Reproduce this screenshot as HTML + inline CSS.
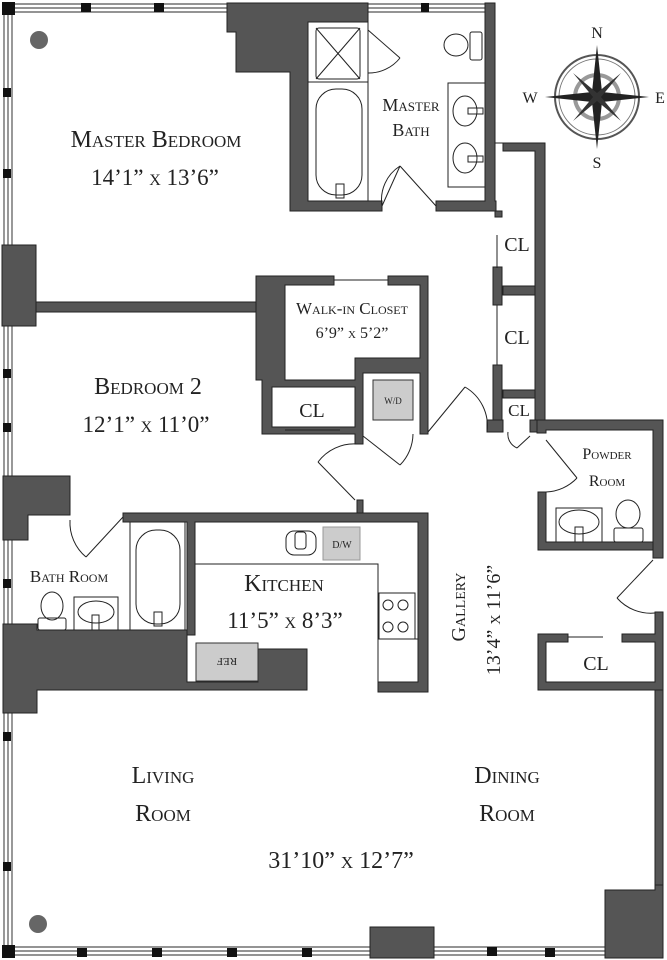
<!DOCTYPE html>
<html><head><meta charset="utf-8"><style>
html,body{margin:0;padding:0;background:#fff;}
svg{display:block;}
text{font-family:"Liberation Serif",serif;fill:#222;}
</style></head><body>
<svg width="667" height="960" viewBox="0 0 667 960" xmlns="http://www.w3.org/2000/svg">
<g fill="none" stroke="#555" stroke-width="1.2">
 <line x1="4" y1="3" x2="4" y2="958"/><line x1="8" y1="3" x2="8" y2="958"/><line x1="12" y1="3" x2="12" y2="958"/>
 <line x1="4" y1="4" x2="227" y2="4"/><line x1="4" y1="8" x2="227" y2="8"/><line x1="12" y1="12" x2="227" y2="12"/>
 <line x1="368" y1="4" x2="487" y2="4"/><line x1="368" y1="8" x2="487" y2="8"/><line x1="368" y1="12" x2="487" y2="12"/>
 <line x1="4" y1="947" x2="606" y2="947"/><line x1="4" y1="951" x2="606" y2="951"/><line x1="4" y1="955" x2="606" y2="955"/>
</g>
<g fill="#111">
 <rect x="2" y="2" width="13" height="13"/><rect x="81" y="3" width="10" height="9"/><rect x="154" y="3" width="10" height="9"/>
 <rect x="421" y="3" width="8" height="9"/>
 <rect x="3" y="88" width="8" height="9"/><rect x="3" y="169" width="8" height="9"/>
 <rect x="3" y="369" width="8" height="9"/><rect x="3" y="423" width="8" height="9"/>
 <rect x="3" y="579" width="8" height="9"/><rect x="3" y="732" width="8" height="9"/><rect x="3" y="862" width="8" height="9"/>
 <rect x="2" y="945" width="13" height="13"/>
 <rect x="77" y="948" width="10" height="9"/><rect x="152" y="948" width="10" height="9"/><rect x="227" y="948" width="10" height="9"/>
 <rect x="302" y="948" width="10" height="9"/><rect x="487" y="947" width="10" height="9"/><rect x="545" y="948" width="10" height="9"/>
</g>
<g fill="#666"><circle cx="39" cy="40" r="9"/><ellipse cx="38" cy="924" rx="9" ry="9"/></g>
<g fill="#555" stroke="#222" stroke-width="1">
 <polygon points="227,3 368,3 368,22 308,22 308,201 382,201 382,211 290,211 290,72 236,72 236,32 227,32"/>
 <polygon points="485,3 495,3 495,201 496,201 496,211 502,211 502,217 495,217 495,211 436,211 436,201 485,201"/>
 <polygon points="495,143 545,143 545,428 535,428 535,151 503,151 503,143"/>
 <rect x="503" y="286" width="32" height="9"/><rect x="503" y="390" width="32" height="8"/>
 <rect x="493" y="267" width="9" height="38"/><rect x="493" y="365" width="9" height="63"/>
 <rect x="487" y="420" width="16" height="12"/><rect x="530" y="420" width="15" height="12"/>
 <polygon points="537,420 663,420 663,558 653,558 653,430 546,430 546,433 537,433"/>
 <polygon points="538,492 546,492 546,542 653,542 653,550 538,550"/>
 <polygon points="538,634 568,634 568,642 546,642 546,682 655,682 655,642 622,642 622,634 655,634 655,612 663,612 663,690 538,690"/>
 <rect x="655" y="690" width="8" height="200"/>
 <polygon points="605,890 655,890 655,885 663,885 663,958 605,958"/>
 <rect x="370" y="927" width="64" height="31"/>
 <rect x="2" y="245" width="34" height="81"/>
 <rect x="36" y="302" width="220" height="10"/>
 <polygon points="256,276 334,276 334,285 285,285 285,380 355,380 355,358 420,358 420,285 388,285 388,276 428,276 428,434 420,434 420,373 363,373 363,444 355,444 355,434 262,434 262,380 256,380"/>
</g>
<rect x="272" y="387" width="83" height="40" fill="#fff" stroke="#222" stroke-width="1"/>
<g fill="#555" stroke="#222" stroke-width="1">
 <rect x="357" y="500" width="6" height="14"/>
 <polygon points="123,513 428,513 428,692 378,692 378,682 418,682 418,522 195,522 195,635 187,635 187,522 123,522"/>
 <polygon points="3,476 70,476 70,515 28,515 28,540 3,540"/>
 <polygon points="3,624 37,624 37,630 187,630 187,682 258,682 258,649 307,649 307,690 37,690 37,713 3,713"/>
</g>
<g fill="none" stroke="#222" stroke-width="1">
 <line x1="334" y1="280" x2="388" y2="280"/><line x1="285" y1="430" x2="340" y2="430"/>
 <line x1="497" y1="235" x2="497" y2="268"/><line x1="497" y1="305" x2="497" y2="365"/>
 <line x1="568" y1="637" x2="603" y2="637"/>
 <line x1="382" y1="206" x2="400" y2="166"/><path d="M400,166 A40,40 0 0 0 382,206"/>
 <line x1="436" y1="206" x2="400" y2="166"/>
 <line x1="368" y1="30" x2="400" y2="58"/><path d="M400,58 A40,40 0 0 1 368,73"/>
 <line x1="363" y1="436" x2="400" y2="465"/><path d="M400,465 A45,45 0 0 0 413,434"/>
 <line x1="355" y1="500" x2="318" y2="462"/><path d="M318,462 A45,45 0 0 1 357,444"/>
 <line x1="428" y1="432" x2="465" y2="387"/><path d="M465,387 A45,45 0 0 1 487,432"/>
 <line x1="517" y1="448" x2="530" y2="436"/><path d="M508,432 A15,15 0 0 0 517,448"/>
 <line x1="546" y1="440" x2="577" y2="478"/><path d="M577,478 A45,45 0 0 1 546,492"/>
 <line x1="653" y1="560" x2="617" y2="598"/><path d="M617,598 A45,45 0 0 0 655,613"/>
 <line x1="123" y1="517" x2="86" y2="557"/><path d="M70,520 A45,45 0 0 0 86,557"/>
 <rect x="316" y="28" width="44" height="51" rx="3"/>
 <line x1="316" y1="28" x2="360" y2="79"/><line x1="360" y1="28" x2="316" y2="79"/>
 <line x1="308" y1="82" x2="368" y2="82"/>
 <rect x="316" y="89" width="46" height="106" rx="20"/>
 <rect x="336" y="184" width="8" height="14"/>
 <line x1="368" y1="22" x2="368" y2="201"/>
 <ellipse cx="456" cy="45" rx="12" ry="11"/><rect x="470" y="32" width="12" height="28" rx="2"/>
 <rect x="448" y="83" width="37" height="104"/>
 <ellipse cx="465" cy="111" rx="12" ry="15"/><ellipse cx="465" cy="158" rx="12" ry="15"/>
 <rect x="468" y="108" width="15" height="6"/><rect x="468" y="156" width="15" height="6"/>
 <rect x="556" y="508" width="46" height="34"/><ellipse cx="579" cy="522" rx="20" ry="12"/><rect x="575" y="527" width="8" height="15"/>
 <ellipse cx="628" cy="514" rx="12" ry="14"/><rect x="614" y="528" width="29" height="14" rx="2"/>
 <ellipse cx="52" cy="606" rx="11" ry="14"/><rect x="38" y="618" width="28" height="12" rx="2"/>
 <rect x="74" y="597" width="44" height="33"/><ellipse cx="96" cy="612" rx="18" ry="11"/><rect x="92" y="615" width="7" height="15"/>
 <line x1="130" y1="522" x2="130" y2="630"/><line x1="185" y1="522" x2="185" y2="630"/>
 <rect x="136" y="530" width="44" height="94" rx="20"/><rect x="154" y="612" width="8" height="14"/>
 <polyline points="195,564 378,564 378,682"/>
 <rect x="286" y="531" width="30" height="24" rx="8"/><rect x="295" y="532" width="11" height="17" rx="3"/>
 <rect x="379" y="593" width="36" height="46"/><line x1="378" y1="639" x2="418" y2="639"/>
 <circle cx="388" cy="605" r="5"/><circle cx="403" cy="605" r="5"/><circle cx="388" cy="627" r="5"/><circle cx="403" cy="627" r="5"/>
</g>
<rect x="323" y="527" width="37" height="33" fill="#ccc" stroke="#999"/>
<rect x="196" y="643" width="62" height="38" fill="#ccc" stroke="#333"/>
<rect x="373" y="380" width="40" height="40" fill="#ccc" stroke="#333"/>
<g font-size="10"><text x="342" y="548" text-anchor="middle">D/W</text><text x="393" y="404" text-anchor="middle" font-size="9">W/D</text>
<text x="227" y="662" text-anchor="middle" transform="rotate(180 227 662)" font-size="11" dy="4">REF</text></g>
<g transform="translate(597,97)">
 <circle r="42" fill="none" stroke="#555" stroke-width="2"/><circle r="38" fill="none" stroke="#777" stroke-width="1"/>
 <circle r="22" fill="none" stroke="#999" stroke-width="4"/>
 <polygon points="0,-52 5,-5 0,0 -5,-5" fill="#222"/><polygon points="0,52 5,5 0,0 -5,5" fill="#222"/>
 <polygon points="-52,0 -5,-5 0,0 -5,5" fill="#222"/><polygon points="52,0 5,-5 0,0 5,5" fill="#222"/>
 <polygon points="24,-24 4,0 0,0 0,-4" fill="#333"/><polygon points="-24,-24 -4,0 0,0 0,-4" fill="#333"/>
 <polygon points="24,24 4,0 0,0 0,4" fill="#333"/><polygon points="-24,24 -4,0 0,0 0,4" fill="#333"/>
</g>
<g font-size="16"><text x="597" y="38" text-anchor="middle">N</text><text x="597" y="168" text-anchor="middle">S</text>
<text x="530" y="103" text-anchor="middle">W</text><text x="660" y="103" text-anchor="middle">E</text></g>
<g text-anchor="middle" style="font-variant:small-caps">
 <text x="156" y="147" font-size="24">Master Bedroom</text>
 <text x="155" y="185" font-size="23">14’1” x 13’6”</text>
 <text x="411" y="111" font-size="18">Master</text><text x="411" y="136" font-size="18">Bath</text>
 <text x="517" y="251" font-size="20">CL</text><text x="517" y="344" font-size="20">CL</text><text x="519" y="416" font-size="17">CL</text>
 <text x="352" y="314" font-size="17">Walk-in Closet</text><text x="352" y="338" font-size="16">6’9” x 5’2”</text>
 <text x="312" y="417" font-size="20">CL</text>
 <text x="148" y="394" font-size="24">Bedroom 2</text><text x="146" y="432" font-size="23">12’1” x 11’0”</text>
 <text x="607" y="459" font-size="16">Powder</text><text x="607" y="486" font-size="16">Room</text>
 <text x="69" y="582" font-size="17">Bath Room</text>
 <text x="284" y="591" font-size="24">Kitchen</text><text x="285" y="628" font-size="23">11’5” x 8’3”</text>
 <text x="596" y="670" font-size="20">CL</text>
 <text transform="translate(465,607) rotate(-90)" font-size="20">Gallery</text>
 <text transform="translate(500,620) rotate(-90)" font-size="20">13’4” x 11’6”</text>
 <text x="163" y="783" font-size="24">Living</text><text x="163" y="821" font-size="24">Room</text>
 <text x="507" y="783" font-size="24">Dining</text><text x="507" y="821" font-size="24">Room</text>
 <text x="341" y="868" font-size="24">31’10” x 12’7”</text>
</g>
</svg>
</body></html>
